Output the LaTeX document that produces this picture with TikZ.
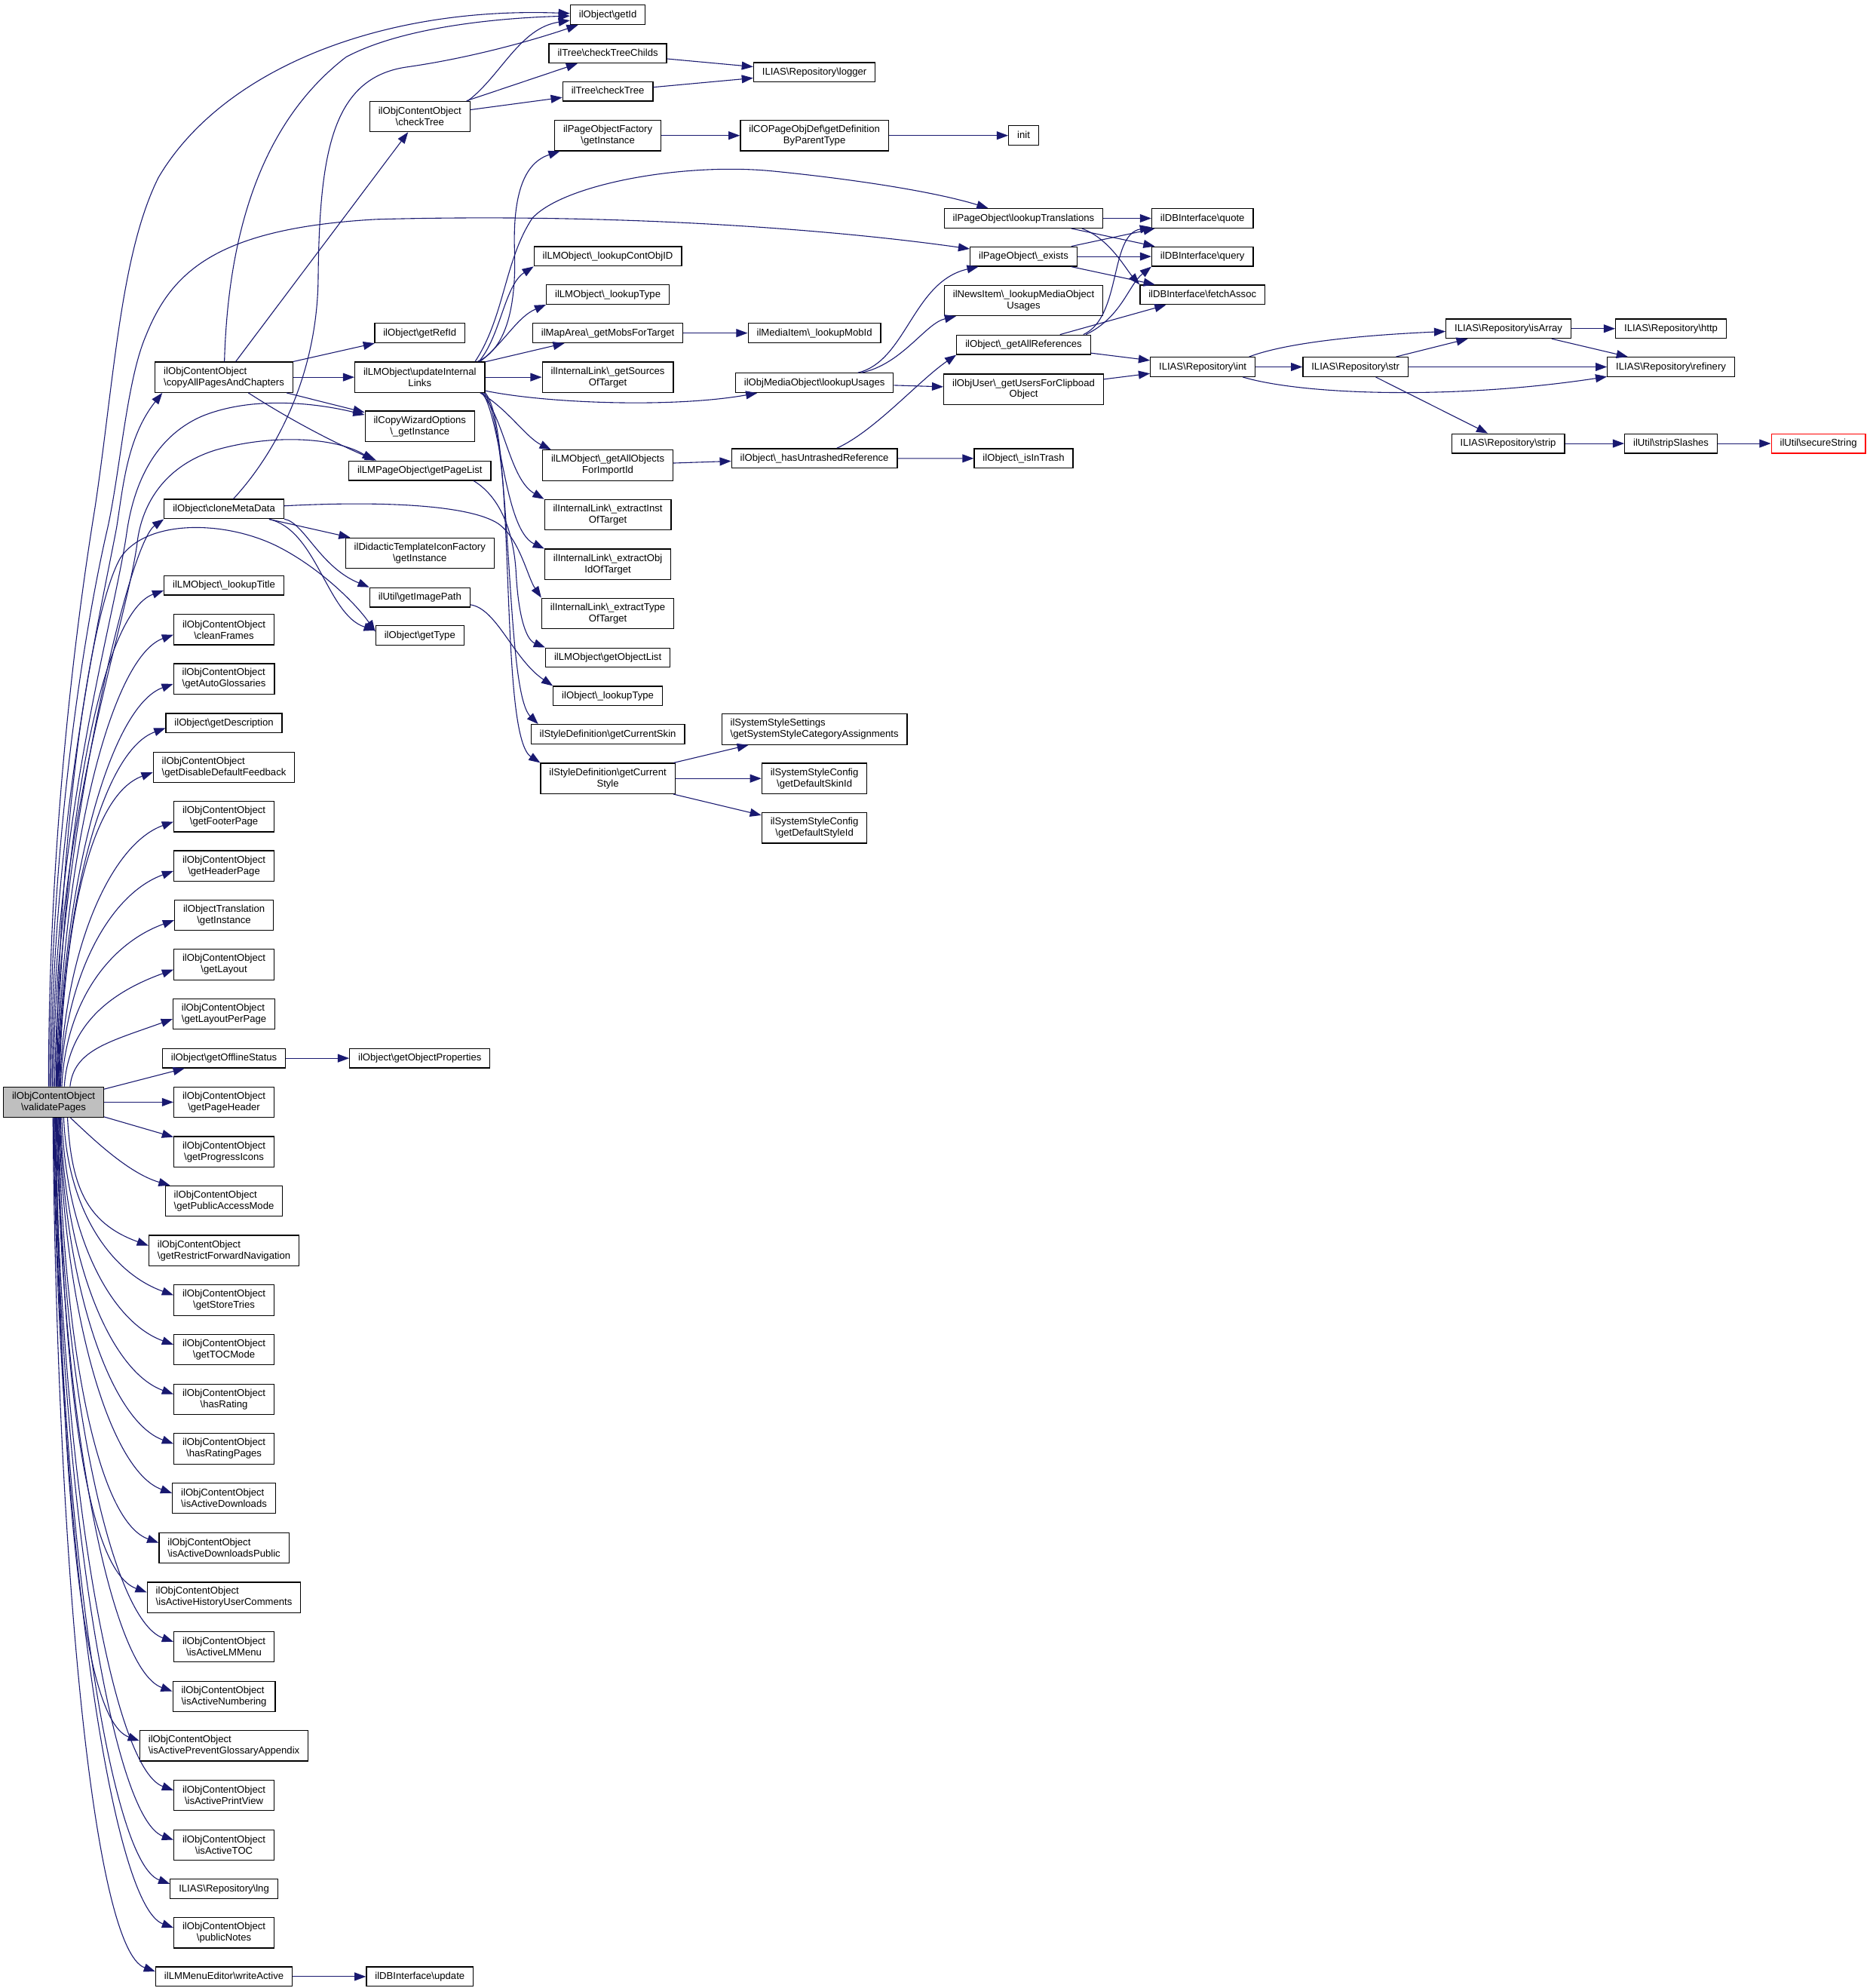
\documentclass[tikz,border=0pt]{standalone}
\usepackage{fontspec}
\setmainfont{Liberation Sans}
\usetikzlibrary{arrows.meta,calc}
\newcommand\BSL{\textbackslash}
\definecolor{edgeblue}{HTML}{191970}
\definecolor{maingray}{HTML}{BFBFBF}
\tikzset{
  box/.style={draw=black,line width=0.75pt,fill=white,font=\fontsize{7.8}{8.9}\selectfont,inner xsep=6.8pt,inner ysep=0pt},
  one/.style={box,minimum height=15.3pt,text height=5.9pt,text depth=1.7pt},
  two/.style={box,minimum height=24pt,align=center},
  twol/.style={box,minimum height=24pt,align=left},
  edge/.style={draw=edgeblue,line width=0.65pt,-{Triangle[length=9pt,width=6.5pt]}},
}
\newcommand\vpUp[3]{\draw[edge] ($(vp.north)+(#2,0)$) .. controls ($(vp.north)+({#2+3},{-0.5*(857.4-#3)})$) and ($(#1.west)+(-50,22)$) .. ($(#1.west)+(0,4)$);}
\newcommand\vpDown[3]{\draw[edge] ($(vp.south)+(#2,0)$) .. controls ($(vp.south)+({#2+3},{0.5*(#3-881.2)})$) and ($(#1.west)+(-50,-22)$) .. ($(#1.west)+(0,-4)$);}
\begin{document}
\begin{tikzpicture}[x=1pt,y=-1pt]
\fill[white] (0,0) rectangle (1475,1568);
\useasboundingbox (0,0) rectangle (1475,1568);
% rank 0
\node[two,fill=maingray] (vp) at (42.25,869.3) {ilObjContentObject\\\BSL{}validatePages};
% rank 1
\node[twol] (ca) at (176.7,297.5) {ilObjContentObject\\\BSL{}copyAllPagesAndChapters};
\node[one] (cm) at (176.7,401.5) {ilObject\BSL{}cloneMetaData};
\node[one] (ltitle) at (176.7,461.7) {ilLMObject\BSL\_lookupTitle};
\node[two] (cf) at (176.7,496.6) {ilObjContentObject\\\BSL{}cleanFrames};
\node[twol] (gag) at (176.7,535.4) {ilObjContentObject\\\BSL{}getAutoGlossaries};
\node[one] (gdesc) at (176.7,570.3) {ilObject\BSL{}getDescription};
\node[twol] (gddf) at (176.7,605.2) {ilObjContentObject\\\BSL{}getDisableDefaultFeedback};
\node[two] (gfp) at (176.7,644.1) {ilObjContentObject\\\BSL{}getFooterPage};
\node[two] (ghp) at (176.7,683.0) {ilObjContentObject\\\BSL{}getHeaderPage};
\node[two] (otr) at (176.7,721.8) {ilObjectTranslation\\\BSL{}getInstance};
\node[two] (glay) at (176.7,760.8) {ilObjContentObject\\\BSL{}getLayout};
\node[twol] (glpp) at (176.7,799.7) {ilObjContentObject\\\BSL{}getLayoutPerPage};
\node[one] (gos) at (176.7,834.65) {ilObject\BSL{}getOfflineStatus};
\node[two] (gph) at (176.7,869.3) {ilObjContentObject\\\BSL{}getPageHeader};
\node[two] (gpi) at (176.7,908.4) {ilObjContentObject\\\BSL{}getProgressIcons};
\node[twol] (gpam) at (176.7,947.3) {ilObjContentObject\\\BSL{}getPublicAccessMode};
\node[twol] (grfn) at (176.7,986.4) {ilObjContentObject\\\BSL{}getRestrictForwardNavigation};
\node[two] (gst) at (176.7,1025.5) {ilObjContentObject\\\BSL{}getStoreTries};
\node[two] (gtoc) at (176.7,1064.5) {ilObjContentObject\\\BSL{}getTOCMode};
\node[two] (hr) at (176.7,1103.6) {ilObjContentObject\\\BSL{}hasRating};
\node[two] (hrp) at (176.7,1142.7) {ilObjContentObject\\\BSL{}hasRatingPages};
\node[twol] (iad) at (176.7,1181.7) {ilObjContentObject\\\BSL{}isActiveDownloads};
\node[twol] (iadp) at (176.7,1220.8) {ilObjContentObject\\\BSL{}isActiveDownloadsPublic};
\node[twol] (iahuc) at (176.7,1259.9) {ilObjContentObject\\\BSL{}isActiveHistoryUserComments};
\node[two] (ialm) at (176.7,1298.9) {ilObjContentObject\\\BSL{}isActiveLMMenu};
\node[twol] (ian) at (176.7,1338.0) {ilObjContentObject\\\BSL{}isActiveNumbering};
\node[twol] (iapga) at (176.7,1377.0) {ilObjContentObject\\\BSL{}isActivePreventGlossaryAppendix};
\node[two] (iapv) at (176.7,1416.0) {ilObjContentObject\\\BSL{}isActivePrintView};
\node[two] (iatoc) at (176.7,1455.2) {ilObjContentObject\\\BSL{}isActiveTOC};
\node[one] (lng) at (176.7,1489.8) {ILIAS\BSL{}Repository\BSL{}lng};
\node[two] (pn) at (176.7,1524.4) {ilObjContentObject\\\BSL{}publicNotes};
\node[one] (wa) at (176.7,1559.0) {ilLMMenuEditor\BSL{}writeActive};
% rank 2
\node[two] (ct) at (331.2,91.9) {ilObjContentObject\\\BSL{}checkTree};
\node[one] (gri) at (331.2,262.7) {ilObject\BSL{}getRefId};
\node[two] (uil) at (331.2,297.5) {ilLMObject\BSL{}updateInternal\\Links};
\node[two] (cw) at (331.2,336.2) {ilCopyWizardOptions\\\BSL\_getInstance};
\node[one] (gpl) at (331.2,371.2) {ilLMPageObject\BSL{}getPageList};
\node[two] (dt) at (331.2,436.3) {ilDidacticTemplateIconFactory\\\BSL{}getInstance};
\node[one] (gip) at (331.2,471.2) {ilUtil\BSL{}getImagePath};
\node[one] (gt) at (331.2,501.2) {ilObject\BSL{}getType};
\node[one] (gop) at (331.2,834.65) {ilObject\BSL{}getObjectProperties};
\node[one] (upd) at (331.2,1559.0) {ilDBInterface\BSL{}update};
% rank 3
\node[one] (gid) at (479.5,11.7) {ilObject\BSL{}getId};
\node[one] (ctc) at (479.5,42.1) {ilTree\BSL{}checkTreeChilds};
\node[one] (tct) at (479.5,72.1) {ilTree\BSL{}checkTree};
\node[two] (pof) at (479.5,106.9) {ilPageObjectFactory\\\BSL{}getInstance};
\node[one] (lco) at (479.5,202.2) {ilLMObject\BSL\_lookupContObjID};
\node[one] (llt) at (479.5,232.3) {ilLMObject\BSL\_lookupType};
\node[one] (gmt) at (479.5,262.7) {ilMapArea\BSL\_getMobsForTarget};
\node[two] (gso) at (479.5,297.5) {ilInternalLink\BSL\_getSources\\OfTarget};
\node[two] (gao) at (479.5,367.0) {ilLMObject\BSL\_getAllObjects\\ForImportId};
\node[two] (ei) at (479.5,406.0) {ilInternalLink\BSL\_extractInst\\OfTarget};
\node[two] (eo) at (479.5,445.1) {ilInternalLink\BSL\_extractObj\\IdOfTarget};
\node[two] (et) at (479.5,483.8) {ilInternalLink\BSL\_extractType\\OfTarget};
\node[one] (gol) at (479.5,518.7) {ilLMObject\BSL{}getObjectList};
\node[one] (olt) at (479.5,549.0) {ilObject\BSL\_lookupType};
\node[one] (gcs) at (479.5,579.1) {ilStyleDefinition\BSL{}getCurrentSkin};
\node[two] (gcst) at (479.5,614.0) {ilStyleDefinition\BSL{}getCurrent\\Style};
% rank 4
\node[one] (log) at (642.5,57.1) {ILIAS\BSL{}Repository\BSL{}logger};
\node[two] (cop) at (642.5,106.9) {ilCOPageObjDef\BSL{}getDefinition\\ByParentType};
\node[one] (lmi) at (642.5,262.7) {ilMediaItem\BSL\_lookupMobId};
\node[one] (lu) at (642.5,302.0) {ilObjMediaObject\BSL{}lookupUsages};
\node[one] (hur) at (642.5,361.5) {ilObject\BSL\_hasUntrashedReference};
\node[twol] (sss) at (642.5,575.2) {ilSystemStyleSettings\\\BSL{}getSystemStyleCategoryAssignments};
\node[two] (dsk) at (642.5,614.0) {ilSystemStyleConfig\\\BSL{}getDefaultSkinId};
\node[two] (dst) at (642.5,653.0) {ilSystemStyleConfig\\\BSL{}getDefaultStyleId};
% rank 5
\node[one] (init) at (807.5,106.9) {init};
\node[one] (lt) at (807.5,172.2) {ilPageObject\BSL{}lookupTranslations};
\node[one] (ex) at (807.5,202.3) {ilPageObject\BSL\_exists};
\node[two] (ni) at (807.5,237.0) {ilNewsItem\BSL\_lookupMediaObject\\Usages};
\node[one] (gar) at (807.5,271.9) {ilObject\BSL\_getAllReferences};
\node[two] (guc) at (807.5,307.0) {ilObjUser\BSL\_getUsersForClipboad\\Object};
\node[one] (iit) at (807.5,361.6) {ilObject\BSL\_isInTrash};
% rank 6+
\node[one] (qt) at (948.6,172.2) {ilDBInterface\BSL{}quote};
\node[one] (qy) at (948.6,202.3) {ilDBInterface\BSL{}query};
\node[one] (fa) at (948.6,232.5) {ilDBInterface\BSL{}fetchAssoc};
\node[one] (int) at (948.8,289.4) {ILIAS\BSL{}Repository\BSL{}int};
\node[one] (str) at (1069.3,289.4) {ILIAS\BSL{}Repository\BSL{}str};
\node[one] (ia) at (1190.0,259.2) {ILIAS\BSL{}Repository\BSL{}isArray};
\node[one] (strip) at (1189.7,349.8) {ILIAS\BSL{}Repository\BSL{}strip};
\node[one] (http) at (1318.2,259.2) {ILIAS\BSL{}Repository\BSL{}http};
\node[one] (ref) at (1318.2,289.4) {ILIAS\BSL{}Repository\BSL{}refinery};
\node[one] (ss) at (1318.2,349.8) {ilUtil\BSL{}stripSlashes};
\node[one,draw=red] (sec) at (1434.5,349.8) {ilUtil\BSL{}secureString};

% ---- edges from validatePages ----
\draw[edge] ($(vp.north)+(-4,0)$) .. controls (38.5,650) and (62,480) .. (75,400) .. controls (90,300) and (95,200) .. (125,140) .. controls (175,55) and (300,5) .. (gid);
\draw[edge] ($(vp.north)+(-3,0)$) .. controls (39.5,650) and (70,480) .. (85,416) .. controls (95,370) and (100,300) .. (115,265) .. controls (135,215) and (170,180) .. (297,173) .. controls (480,168) and (650,180) .. (ex);
\draw[edge] ($(vp.north)+(-2,0)$) .. controls (40.5,650) and (80,480) .. (92,416) .. controls (97,385) and (100,345) .. ($(ca.south west)+(6,0)$);
\draw[edge] ($(vp.north)+(-1,0)$) .. controls (41.5,650) and (90,490) .. (100,420) .. controls (105,385) and (120,345) .. (160,328) .. controls (200,312) and (250,318) .. ($(cw.west)+(0,-9)$);
\draw[edge] ($(vp.north)+(0,0)$) .. controls (42.5,650) and (98,500) .. (108,430) .. controls (111,400) and (128,368) .. (170,355) .. controls (215,342) and (265,345) .. ($(gpl.north west)+(20,0)$);
\draw[edge] ($(vp.north)+(1,0)$) .. controls (44,680) and (100,430) .. (cm.south west);
\draw[edge] ($(vp.north)+(2,0)$) .. controls (46,650) and (72,480) .. (95,440) .. controls (115,410) and (175,410) .. (217,430) .. controls (250,446) and (280,475) .. ($(gt.west)+(0,-3)$);
\vpUp{ltitle}{2.5}{461.7}
\vpUp{cf}{3}{496.6}
\vpUp{gag}{3.5}{535.4}
\vpUp{gdesc}{4}{570.3}
\vpUp{gddf}{4.5}{605.2}
\vpUp{gfp}{5}{644.1}
\vpUp{ghp}{5.5}{683.0}
\vpUp{otr}{6.5}{721.8}
\vpUp{glay}{8.5}{760.8}
\vpUp{glpp}{13}{799.7}
\draw[edge] (vp) -- (gos);
\draw[edge] (vp) -- (gph);
\draw[edge] (vp) -- (gpi);
\draw[edge] (vp) .. controls (70,895) and (100,925) .. (gpam);
\vpDown{grfn}{11}{986.4}
\vpDown{gst}{8}{1025.5}
\vpDown{gtoc}{6.5}{1064.5}
\vpDown{hr}{5.5}{1103.6}
\vpDown{hrp}{5}{1142.7}
\vpDown{iad}{4.5}{1181.7}
\vpDown{iadp}{4}{1220.8}
\vpDown{iahuc}{3.5}{1259.9}
\vpDown{ialm}{3}{1298.9}
\vpDown{ian}{2.5}{1338.0}
\vpDown{iapga}{2}{1377.0}
\vpDown{iapv}{1.5}{1416.0}
\vpDown{iatoc}{1}{1455.2}
\vpDown{lng}{0.5}{1489.8}
\vpDown{pn}{0}{1524.4}
\vpDown{wa}{-0.5}{1559.0}

% ---- copyAllPagesAndChapters ----
\draw[edge] (ca) .. controls (180,180) and (208,95) .. (273,45) .. controls (320,20) and (400,14) .. (gid);
\draw[edge] (ca) -- (ct);
\draw[edge] (ca) -- (gri);
\draw[edge] (ca) -- (uil);
\draw[edge] (ca) -- (cw);
\draw[edge] (ca) .. controls (235,335) and (270,352) .. ($(gpl.north west)+(22,0)$);
% ---- checkTree ----
\draw[edge] ($(ct.north east)+(-2,0)$) .. controls (395,60) and (410,22) .. (gid);
\draw[edge] (ct) -- (ctc);
\draw[edge] (ct) -- (tct);
\draw[edge] (ctc) -- (log);
\draw[edge] (tct) -- (log);
\draw[edge] (pof) -- (cop);
\draw[edge] (cop) -- (init);
% ---- updateInternalLinks ----
\draw[edge] ($(uil.north east)+(-6,0)$) .. controls (400,275) and (407,240) .. (406,200) .. controls (404,150) and (415,128) .. (pof);
\draw[edge] ($(uil.north east)+(-8,0)$) .. controls (398,250) and (398,205) .. (420,172) .. controls (445,145) and (540,128) .. (610,135) .. controls (680,142) and (740,152) .. ($(lt.north west)+(35,0)$);
\draw[edge] ($(uil.north east)+(-5,0)$) .. controls (395,265) and (398,225) .. (lco.south west);
\draw[edge] ($(uil.north east)+(-4,0)$) .. controls (398,270) and (408,250) .. (llt.south west);
\draw[edge] (uil) -- (gmt);
\draw[edge] (uil) -- (gso);
\draw[edge] (uil) .. controls (430,318) and (530,322) .. (lu);
\draw[edge] ($(uil.south east)+(-4,0)$) .. controls (400,322) and (415,345) .. ($(gao.north west)+(7,0)$);
\draw[edge] ($(uil.south east)+(-3,0)$) .. controls (398,330) and (402,378) .. (ei.north west);
\draw[edge] ($(uil.south east)+(-2,0)$) .. controls (396,335) and (398,418) .. (eo.north west);
\draw[edge] ($(uil.south east)+(-1,0)$) .. controls (405,340) and (398,545) .. ($(gcs.north west)+(6,0)$);
\draw[edge] (uil.south east) .. controls (408,340) and (393,580) .. (gcst.north west);
% ---- getPageList, cloneMetaData, getImagePath ----
\draw[edge] ($(gpl.south east)+(-14,0)$) .. controls (395,392) and (405,420) .. (407,450) .. controls (409,490) and (416,505) .. (gol.north west);
\draw[edge] (cm) .. controls (215,360) and (250,300) .. (251,220) .. controls (252,120) and (262,62) .. (320,53) .. controls (370,46) and (420,32) .. (gid);
\draw[edge] (cm) -- (dt);
\draw[edge] (cm) .. controls (240,412) and (252,447) .. (gip.north west);
\draw[edge] (cm) .. controls (250,418) and (258,485) .. ($(gt.west)+(0,-4)$);
\draw[edge] (cm) .. controls (300,395) and (370,398) .. (393,413) .. controls (410,425) and (416,455) .. (et.north west);
\draw[edge] (gip) .. controls (392,480) and (405,520) .. (olt.north west);
% ---- middle ----
\draw[edge] (gao) -- (hur);
\draw[edge] (hur) .. controls (690,340) and (725,300) .. (gar.south west);
\draw[edge] (hur) -- (iit);
\draw[edge] (lu) .. controls (715,285) and (720,222) .. (ex);
\draw[edge] (lu) .. controls (712,287) and (730,255) .. (ni);
\draw[edge] (lu) -- (guc);
\draw[edge] (gmt) -- (lmi);
\draw[edge] (guc) -- (int);
\draw[edge] (gar) -- (int);
\draw[edge] (gar) -- (fa);
\draw[edge] ($(gar.north east)+(-6,0)$) .. controls (885,250) and (875,185) .. (qt);
\draw[edge] ($(gar.north east)+(-4,0)$) .. controls (885,250) and (890,225) .. (qy.south west);
\draw[edge] (lt) -- (qt);
\draw[edge] (lt) -- (qy);
\draw[edge] ($(lt.south east)+(-17,0)$) .. controls (875,188) and (888,212) .. (fa.north west);
\draw[edge] (ex) -- (qt);
\draw[edge] (ex) -- (qy);
\draw[edge] (ex) -- (fa);
% ---- right ----
\draw[edge] ($(int.north east)+(-5,0)$) .. controls (1010,272) and (1060,265) .. (ia);
\draw[edge] (int) -- (str);
\draw[edge] ($(int.south east)+(-10,0)$) .. controls (1030,312) and (1150,315) .. (ref);
\draw[edge] (str) -- (ia);
\draw[edge] (str) -- (ref);
\draw[edge] (str) -- (strip);
\draw[edge] (ia) -- (http);
\draw[edge] (ia) -- (ref);
\draw[edge] (strip) -- (ss);
\draw[edge] (ss) -- (sec);
% ---- lower ----
\draw[edge] (gos) -- (gop);
\draw[edge] (wa) -- (upd);
\draw[edge] (gcst) -- (sss);
\draw[edge] (gcst) -- (dsk);
\draw[edge] (gcst) -- (dst);
\end{tikzpicture}
\end{document}
